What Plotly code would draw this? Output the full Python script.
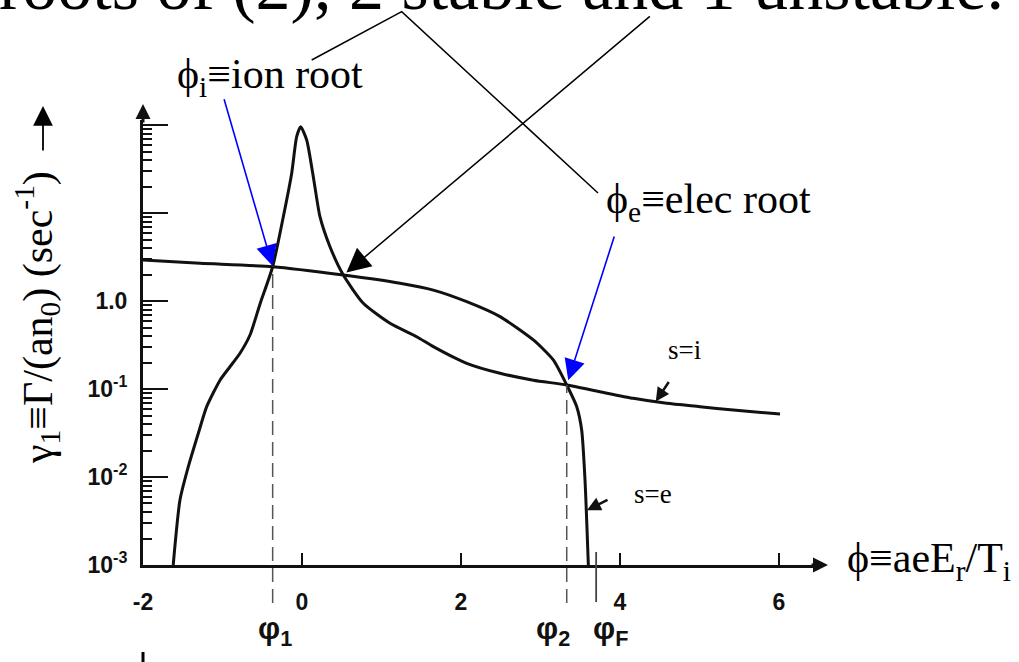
import math
import plotly.graph_objects as go

# s = i : ion flux, sharp resonance near phi = 0 and a slow tail at large phi
phi_ion = [-1.62, -1.535, -1.43, -1.304, -1.199, -1.031, -0.906, -0.78, -0.654, -0.528,
           -0.369, -0.235, -0.13, -0.067, -0.017, 0.059, 0.142, 0.226, 0.352, 0.52,
           0.771, 1.107, 1.443, 1.652, 2.072, 2.491, 2.91, 3.33, 3.748, 4.167,
           4.587, 5.006, 5.425, 6.013]
gamma_ion = [0.001, 0.00548, 0.0131, 0.0314, 0.063, 0.126, 0.179, 0.255, 0.411, 0.925,
             2.45, 9.08, 28.2, 73.6, 95.7, 67.6, 25.9, 9.08, 4.14, 1.97,
             0.942, 0.558, 0.393, 0.303, 0.196, 0.151, 0.126, 0.111, 0.0931, 0.0783,
             0.0687, 0.063, 0.0577, 0.052]

# s = e : electron flux, nearly flat, then cut off close to phi_F
phi_ele = [-2.0, -1.283, -0.369, 0.52, 1.233, 1.652, 2.072, 2.491, 2.91, 3.161,
           3.33, 3.456, 3.518, 3.56, 3.602]
gamma_ele = [2.92, 2.68, 2.45, 1.97, 1.59, 1.33, 0.982, 0.664, 0.361, 0.214,
             0.111, 0.063, 0.0342, 0.00925, 0.001]

# ambipolar roots: ion root, unstable root, electron root; and the cutoff phi_F
phi_roots = [-0.369, 0.52, 3.33]
gamma_roots = [2.45, 1.97, 0.111]
phi_cut = 3.70

y_tick_vals = [1e-3, 1e-2, 1e-1, 1.0, 10.0, 100.0]
y_tick_text = ["10<sup>-3</sup>", "10<sup>-2</sup>", "10<sup>-1</sup>", "1.0", "", ""]
x_tick_vals = [-2, 0, 2, 4, 6]
x_tick_text = ["-2", "0", "2", "4", "6"]

W, H = 1019, 662
L, R, T, B = 143, 204, 120, 97
X_RANGE = [-2.0, 6.453]
Y_RANGE = [-3.0, 2.057]
PW, PH = W - L - R, H - T - B


def px(xp):
    """page pixel column -> paper x"""
    return (xp - L) / PW


def py(yp):
    """page pixel row -> paper y"""
    return (H - B - yp) / PH


def ypaper(v):
    """flux value -> paper y on the log axis"""
    return (math.log10(v) - Y_RANGE[0]) / (Y_RANGE[1] - Y_RANGE[0])


SERIF = "Liberation Serif, Times New Roman, serif"
SANS = "Liberation Sans, Arial, sans-serif"
INK = "#111111"
BLUE = "#0000ff"

fig = go.Figure()
fig.add_trace(go.Scatter(x=phi_ion, y=gamma_ion, mode="lines", name="s=i",
                         line=dict(color=INK, width=3, shape="spline", smoothing=0.6)))
fig.add_trace(go.Scatter(x=phi_ele, y=gamma_ele, mode="lines", name="s=e",
                         line=dict(color=INK, width=3, shape="spline", smoothing=0.6)))

shapes = []
# dashed verticals through the two stable roots, running below the axis
for k in (0, 2):
    shapes.append(dict(type="line", xref="x", yref="paper",
                       x0=phi_roots[k], x1=phi_roots[k],
                       y0=py(603), y1=ypaper(gamma_roots[k]),
                       line=dict(color="#555555", width=1.5, dash="14px,7px")))
# short marker at phi_F
shapes.append(dict(type="line", xref="x", yref="paper", x0=phi_cut, x1=phi_cut,
                   y0=py(602), y1=py(552), line=dict(color="#444444", width=1.8)))
# callout lines from the heading
shapes.append(dict(type="path", xref="paper", yref="paper",
                   path=f"M {px(311.7)},{py(60)} L {px(401.7)},{py(11.7)} L {px(598)},{py(193)}",
                   line=dict(color="black", width=1.5)))
# stray mark at the bottom edge
shapes.append(dict(type="line", xref="paper", yref="paper", x0=px(143), x1=px(143),
                   y0=py(652), y1=py(664), line=dict(color="black", width=3)))

ann = []
# heading (runs off the top of the page)
ann.append(dict(xref="paper", yref="paper", x=px(-3), y=py(26), xanchor="left", yanchor="bottom",
                text="roots of (2), 2 stable and 1 unstable.", showarrow=False,
                font=dict(family=SERIF, size=70, color="black")))
# root labels
ann.append(dict(xref="paper", yref="paper", x=px(175), y=py(77), xanchor="left", yanchor="middle",
                text="ϕ<sub>i</sub>≡ion root", showarrow=False,
                font=dict(family=SERIF, size=42, color="black")))
ann.append(dict(xref="paper", yref="paper", x=px(604), y=py(202), xanchor="left", yanchor="middle",
                text="ϕ<sub>e</sub>≡elec root", showarrow=False,
                font=dict(family=SERIF, size=42, color="black")))
# arrows to the roots
ann.append(dict(xref="x", yref="y", x=phi_roots[0], y=math.log10(gamma_roots[0]),
                ax=-49, ay=-169, axref="pixel", ayref="pixel", text="", showarrow=True,
                arrowhead=2, arrowsize=2.6, arrowwidth=1.6, arrowcolor=BLUE, standoff=1))
ann.append(dict(xref="x", yref="y", x=phi_roots[2], y=math.log10(gamma_roots[2]),
                ax=48, ay=-150, axref="pixel", ayref="pixel", text="", showarrow=True,
                arrowhead=2, arrowsize=2.6, arrowwidth=1.6, arrowcolor=BLUE, standoff=5))
ann.append(dict(xref="x", yref="y", x=phi_roots[1], y=math.log10(gamma_roots[1]),
                ax=308, ay=-260, axref="pixel", ayref="pixel", text="", showarrow=True,
                arrowhead=2, arrowsize=3.2, arrowwidth=1.5, arrowcolor="black", standoff=4))
# curve labels with their pointers
ann.append(dict(xref="paper", yref="paper", x=px(666), y=py(350), xanchor="left", yanchor="middle",
                text="s=i", showarrow=False, font=dict(family=SERIF, size=27, color="black")))
ann.append(dict(xref="x", yref="y", x=4.45, y=math.log10(0.072), ax=14, ay=-21,
                axref="pixel", ayref="pixel", text="", showarrow=True,
                arrowhead=2, arrowsize=1.1, arrowwidth=2.5, arrowcolor=INK, standoff=0))
ann.append(dict(xref="paper", yref="paper", x=px(632), y=py(494), xanchor="left", yanchor="middle",
                text="s=e", showarrow=False, font=dict(family=SERIF, size=27, color="black")))
ann.append(dict(xref="x", yref="y", x=3.585, y=math.log10(0.0042), ax=22, ay=-11,
                axref="pixel", ayref="pixel", text="", showarrow=True,
                arrowhead=2, arrowsize=1.1, arrowwidth=2.5, arrowcolor=INK, standoff=0))
# phi markers under the axis
for xp, lab in ((275, "φ<sub>1</sub>"), (553, "φ<sub>2</sub>"), (610, "φ<sub>F</sub>")):
    ann.append(dict(xref="paper", yref="paper", x=px(xp), y=py(631), xanchor="center",
                    yanchor="middle", text=lab, showarrow=False,
                    font=dict(family=SANS, size=31, color=INK, weight="bold")))
# axis titles
ann.append(dict(xref="paper", yref="paper", x=px(845), y=py(561), xanchor="left", yanchor="middle",
                text="ϕ≡aeE<sub>r</sub>/T<sub>i</sub>", showarrow=False,
                font=dict(family=SERIF, size=42, color="black")))
ann.append(dict(xref="paper", yref="paper", x=px(37), y=py(318), xanchor="center", yanchor="middle",
                textangle=-90, text="γ<sub>1</sub>≡Γ/(an<sub>0</sub>) (sec<sup>-1</sup>)",
                showarrow=False, font=dict(family=SERIF, size=42, color="black")))
ann.append(dict(xref="paper", yref="paper", x=px(43), y=py(106), ax=0, ay=46,
                axref="pixel", ayref="pixel", text="", showarrow=True,
                arrowhead=2, arrowsize=2.2, arrowwidth=1.8, arrowcolor="black", standoff=0))
# axis arrowheads
ann.append(dict(xref="paper", yref="paper", x=px(828), y=0, ax=-18, ay=0,
                axref="pixel", ayref="pixel", text="", showarrow=True,
                arrowhead=2, arrowsize=1.0, arrowwidth=3, arrowcolor=INK, standoff=0))
ann.append(dict(xref="paper", yref="paper", x=0, y=py(104), ax=0, ay=20,
                axref="pixel", ayref="pixel", text="", showarrow=True,
                arrowhead=2, arrowsize=1.0, arrowwidth=3, arrowcolor=INK, standoff=0))

tick_font = dict(family=SANS, size=23, color=INK, weight="bold")
fig.update_layout(
    width=W, height=H,
    margin=dict(l=L, r=R, t=T, b=B, pad=0),
    paper_bgcolor="white", plot_bgcolor="white",
    showlegend=False,
    shapes=shapes, annotations=ann,
    xaxis=dict(range=X_RANGE, showgrid=False, zeroline=False,
               showline=True, linecolor=INK, linewidth=3,
               tickmode="array", tickvals=x_tick_vals, ticktext=x_tick_text,
               ticks="inside", ticklen=12, tickwidth=2, tickcolor=INK,
               tickfont=tick_font, ticklabelstandoff=14),
    yaxis=dict(type="log", range=Y_RANGE, showgrid=False, zeroline=False,
               showline=True, linecolor=INK, linewidth=3,
               tickmode="array", tickvals=y_tick_vals, ticktext=y_tick_text,
               ticks="inside", ticklen=25, tickwidth=2, tickcolor=INK,
               tickfont=tick_font, ticklabelstandoff=8,
               minor=dict(ticks="inside", ticklen=9, tickwidth=1.5, tickcolor=INK,
                          dtick="D1", showgrid=False)),
)

fig.write_html("out.html")
